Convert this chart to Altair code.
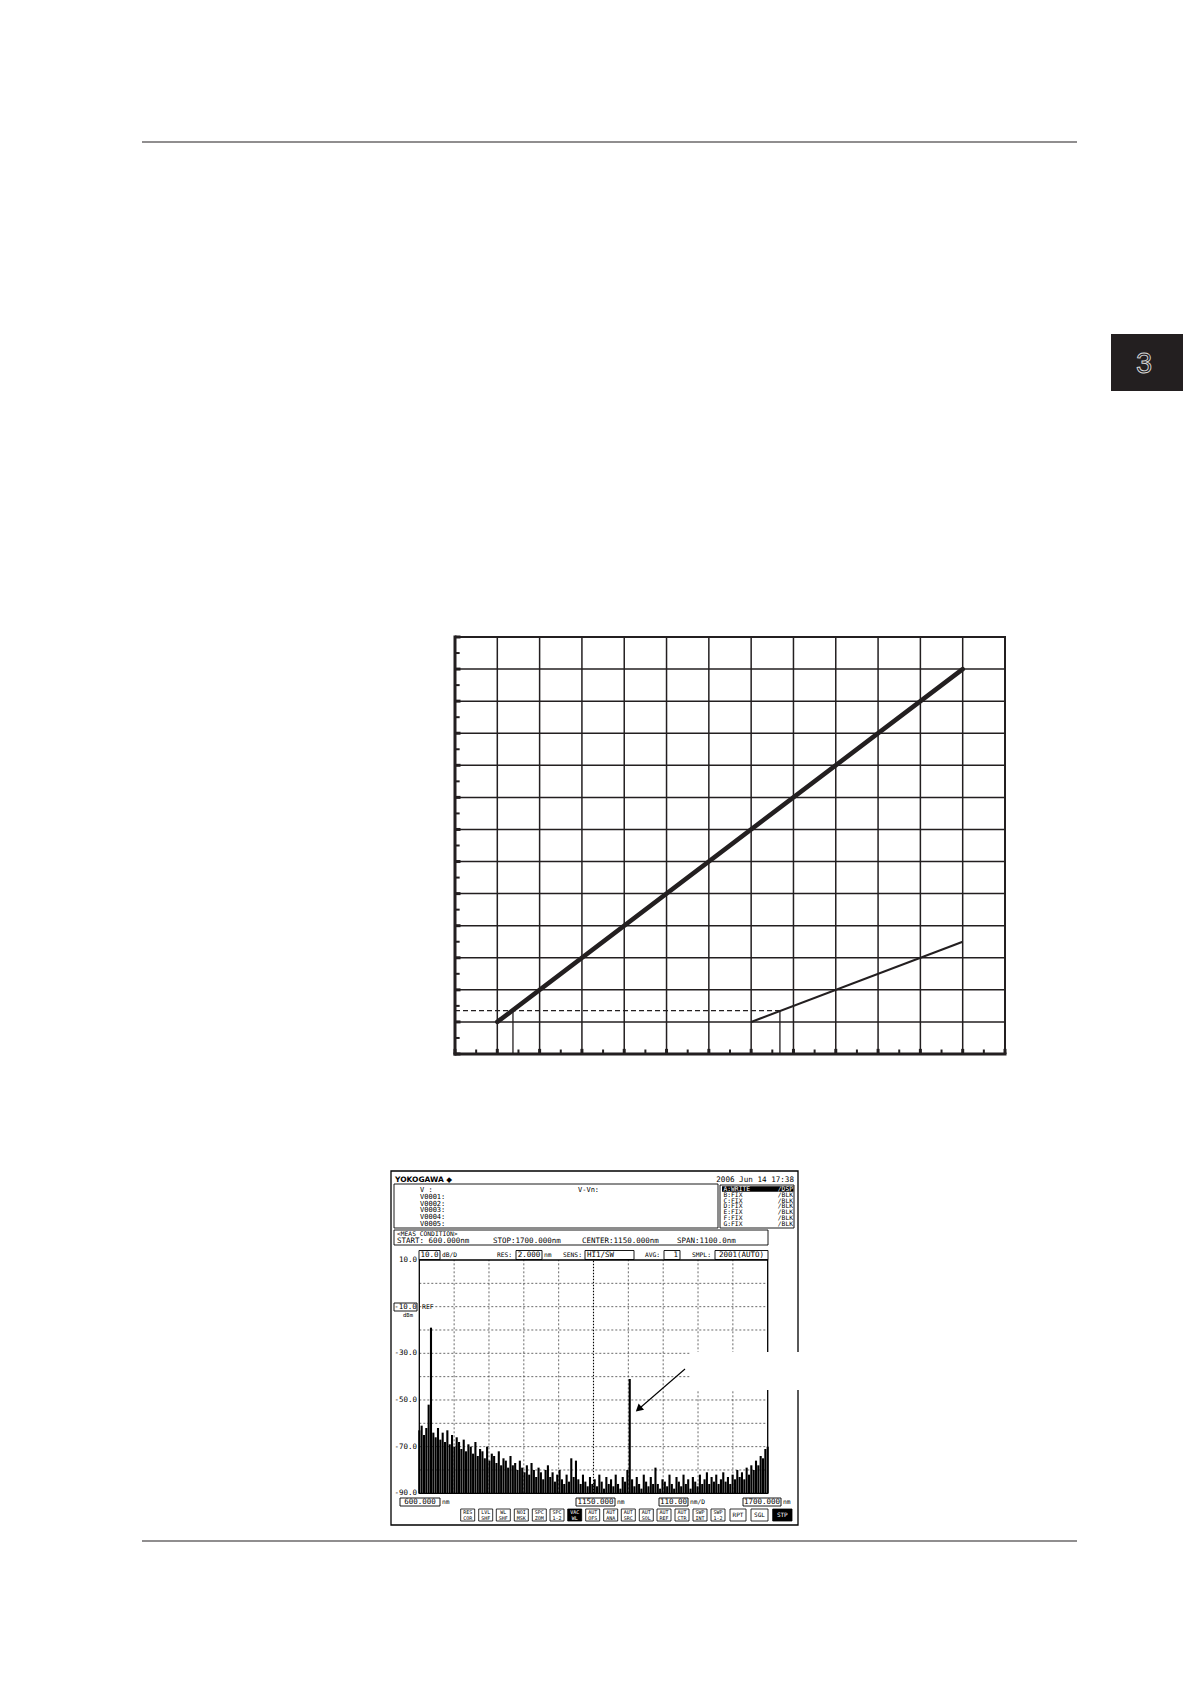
import altair as alt
import numpy as np
import pandas as pd

# ---------------- top diagram (grid units 0..13) ----------------
grid_major = [1, 2, 3, 4, 5, 6, 7, 8, 9, 10, 11, 12]
grid_half = [0.5, 1.5, 2.5, 3.5, 4.5, 5.5, 6.5, 7.5, 8.5, 9.5, 10.5, 11.5, 12.5]
tick_major = [0, 1, 2, 3, 4, 5, 6, 7, 8, 9, 10, 11, 12, 13]
thick_x = [1, 12]
thick_y = [1, 12]
thin_x = [7, 12]
thin_y = [1, 3.5]
dash_y = 1.35
dash_x_end = 7.68
drop_x = [1.37, 7.68]

# ---------------- spectrum (nm / dBm) ----------------
wl_start, wl_stop = 600, 1700
trace_db = [
    -63, -61, -65, -62, -52, -19, -64, -66, -62, -67,
    -64, -68, -63, -69, -65, -70, -66, -68, -71, -67,
    -72, -69, -70, -73, -68, -74, -71, -72, -75, -70,
    -76, -73, -74, -77, -72, -78, -75, -76, -79, -74,
    -78, -77, -80, -76, -79, -81, -78, -82, -77, -80,
    -83, -79, -81, -84, -80, -78, -83, -81, -85, -82,
    -80, -84, -86, -82, -85, -75, -83, -76, -84, -86,
    -82, -85, -87, -83, -86, -84, -87, -82, -85, -88,
    -83, -86, -84, -87, -82, -86, -88, -83, -85, -80,
    -41, -84, -87, -83, -86, -88, -82, -85, -87, -83,
    -86, -79, -86, -88, -84, -85, -87, -82, -86, -88,
    -83, -85, -87, -82, -86, -84, -88, -83, -85, -87,
    -82, -86, -84, -81, -86, -83, -85, -82, -86, -84,
    -81, -85, -83, -86, -82, -84, -80, -83, -81, -84,
    -79, -82, -78, -80, -76, -78, -74, -75, -71, -70,
]
db_ticks = [10, -30, -50, -70, -90]
db_labels = ["10.0", "-30.0", "-50.0", "-70.0", "-90.0"]
db_grid = [0, -10, -20, -30, -40, -50, -60, -70, -80]
wl_grid = [710, 820, 930, 1040, 1260, 1370, 1480, 1590]
wl_center = 1150

# ---------------- scales ----------------
def sc(domain, rng):
    return alt.Scale(domain=domain, range=rng, nice=False, zero=False)

PX = sc([0, 1191], [-8, 1183])      # page layout
PY = sc([0, 1684], [-8, 1676])
TX = sc([0, 13], [447, 997])        # top diagram
TY = sc([0, 13], [1046, 629])
SX = sc([600, 1700], [411.3, 759.7])  # spectrum plot
SY = sc([-90, 10], [1485.3, 1252])

def X(f, s):
    return alt.X(f + ":Q", scale=s, axis=None)

def Y(f, s):
    return alt.Y(f + ":Q", scale=s, axis=None)

layers = []

def hrule(df, xs, ys, **mk):
    layers.append(alt.Chart(pd.DataFrame(df)).mark_rule(**mk).encode(
        x=X("x", xs), x2=alt.X2("x2:Q"), y=Y("y", ys)))

def vrule(df, xs, ys, **mk):
    layers.append(alt.Chart(pd.DataFrame(df)).mark_rule(**mk).encode(
        x=X("x", xs), y=Y("y", ys), y2=alt.Y2("y2:Q")))

def rect(df, xs, ys, **mk):
    layers.append(alt.Chart(pd.DataFrame(df)).mark_rect(**mk).encode(
        x=X("x", xs), x2=alt.X2("x2:Q"), y=Y("y", ys), y2=alt.Y2("y2:Q")))

def text(df, xs, ys, **mk):
    layers.append(alt.Chart(pd.DataFrame(df)).mark_text(**mk).encode(
        x=X("x", xs), y=Y("y", ys), text="t:N"))

INK = "#231f20"

# ---------------- page decorations ----------------
hrule({"x": [142, 142], "x2": [1077, 1077], "y": [142, 1541]}, PX, PY,
      color=INK, strokeWidth=1.1)
rect({"x": [1111], "x2": [1191], "y": [334], "y2": [391]}, PX, PY, color=INK)
text({"x": [1144], "y": [363.5], "t": ["3"]}, PX, PY, align="center", baseline="middle",
     font="Liberation Sans", fontSize=29, fill=INK, stroke="#d8d8d8", strokeWidth=0.9)

# ---------------- top diagram ----------------
vrule({"x": grid_major, "y": [0] * 12, "y2": [13] * 12}, TX, TY, color=INK, strokeWidth=1.5)
hrule({"x": [0] * 12, "x2": [13] * 12, "y": grid_major}, TX, TY, color=INK, strokeWidth=1.5)
# minor ticks
hrule({"x": [0] * 13, "x2": [0.11] * 13, "y": grid_half}, TX, TY, color=INK, strokeWidth=2)
vrule({"x": grid_half, "y": [0] * 13, "y2": [0.14] * 13}, TX, TY, color=INK, strokeWidth=2)
# major stubs
hrule({"x": [0] * 14, "x2": [0.13] * 14, "y": tick_major}, TX, TY, color=INK, strokeWidth=3)
vrule({"x": tick_major, "y": [0] * 14, "y2": [0.16] * 14}, TX, TY, color=INK, strokeWidth=3)
# frame
vrule({"x": [0], "y": [0], "y2": [13]}, TX, TY, color=INK, strokeWidth=3, strokeCap="square")
hrule({"x": [0], "x2": [13], "y": [0]}, TX, TY, color=INK, strokeWidth=3, strokeCap="square")
vrule({"x": [13], "y": [0], "y2": [13]}, TX, TY, color=INK, strokeWidth=2, strokeCap="square")
hrule({"x": [0], "x2": [13], "y": [13]}, TX, TY, color=INK, strokeWidth=2, strokeCap="square")
# dashed level and drop lines
hrule({"x": [0], "x2": [dash_x_end], "y": [dash_y]}, TX, TY, color=INK, strokeWidth=1.2,
      strokeDash=[5, 3])
vrule({"x": drop_x, "y": [0, 0], "y2": [dash_y, dash_y]}, TX, TY, color=INK, strokeWidth=1.3)
# the two lines
layers.append(alt.Chart(pd.DataFrame({"x": thick_x, "y": thick_y})).mark_line(
    color=INK, strokeWidth=4.6, strokeCap="round").encode(x=X("x", TX), y=Y("y", TY)))
layers.append(alt.Chart(pd.DataFrame({"x": thin_x, "y": thin_y})).mark_line(
    color=INK, strokeWidth=2.1).encode(x=X("x", TX), y=Y("y", TY)))

# ---------------- instrument screen ----------------
MONO = "DejaVu Sans Mono"
# outer frame and boxes
rect({"x": [391], "x2": [798], "y": [1171], "y2": [1525]}, PX, PY,
     fill="white", stroke="black", strokeWidth=1.3)
rect({"x": [394, 720, 394], "x2": [718, 794, 768], "y": [1184, 1185, 1230],
      "y2": [1228, 1228, 1245]}, PX, PY, fill="none", stroke="black", strokeWidth=0.9)
# value boxes
rect({"x": [419, 516, 585, 664, 715, 394, 400, 576, 659, 743],
      "x2": [440, 542, 634, 680, 768, 417, 440, 615, 688, 781],
      "y": [1250.5] * 5 + [1303] + [1498] * 4,
      "y2": [1259.5] * 5 + [1311] + [1506] * 4}, PX, PY,
     fill="none", stroke="black", strokeWidth=0.9)
# soft keys
key_top = ["RES", "LVL", "WL", "NOI", "SPC", "SPC", "VAC", "AUT", "AUT", "AUT", "AUT",
           "AUT", "AUT", "SWP", "SWP"]
key_bot = ["COR", "SHF", "SHF", "MSK", "ZOM", "1-2", "WL", "OFS", "ANA", "SRC", "SOL",
           "REF", "CTR", "INT", "1-2"]
key_left = [460.7, 478.7, 496.3, 514.3, 532.3, 550, 567.7, 585.7, 603.7, 621.3, 639.3,
            657, 675, 693, 711]
key3 = ["RPT", "SGL", "STP"]
key3_left = [730, 751, 772.7]
key3_right = [746, 768, 792]
rect({"x": key_left + key3_left, "x2": [k + 14 for k in key_left] + key3_right,
      "y": [1509] * 18, "y2": [1521] * 18}, PX, PY, fill="none", stroke="black",
     strokeWidth=0.8)
rect({"x": [567.7, 772.7], "x2": [581.7, 792], "y": [1509, 1509], "y2": [1521, 1521]},
     PX, PY, color="black")
# highlighted trace row
rect({"x": [722], "x2": [793.5], "y": [1186.3], "y2": [1191.8]}, PX, PY, color="black")

# plot grid
hrule({"x": [600] * 9, "x2": [1700] * 9, "y": db_grid}, SX, SY, color="#444",
      strokeWidth=0.8, strokeDash=[2, 2])
vrule({"x": wl_grid, "y": [-90] * 8, "y2": [10] * 8}, SX, SY, color="#444",
      strokeWidth=0.8, strokeDash=[2, 2])
vrule({"x": [wl_center], "y": [-90], "y2": [10]}, SX, SY, color="black",
      strokeWidth=1.1, strokeDash=[1.5, 1.5])

# trace
trace_df = pd.DataFrame({"x": np.linspace(wl_start, wl_stop, len(trace_db)),
                         "y": [-90] * len(trace_db), "y2": trace_db})
layers.append(alt.Chart(trace_df).mark_rule(color="black", strokeWidth=2.1).encode(
    x=X("x", SX), y=Y("y", SY), y2=alt.Y2("y2:Q")))

# plot border
rect({"x": [600], "x2": [1700], "y": [-90], "y2": [10]}, SX, SY, fill="none",
     stroke="black", strokeWidth=1.3)

# y tick labels
layers.append(alt.Chart(pd.DataFrame({"x": [417] * 5, "y": db_ticks, "t": db_labels}))
              .mark_text(align="right", baseline="middle", font=MONO, fontSize=7.5)
              .encode(x=X("x", PX), y=Y("y", SY), text="t:N"))
layers.append(alt.Chart(pd.DataFrame({"x": [405.5], "y": [-10], "t": ["-10.0"]}))
              .mark_text(align="center", baseline="middle", font=MONO, fontSize=7.5)
              .encode(x=X("x", PX), y=Y("y", SY), text="t:N"))
layers.append(alt.Chart(pd.DataFrame({"x": [422], "y": [-10], "t": ["REF"]}))
              .mark_text(align="left", baseline="middle", font=MONO, fontSize=6.5)
              .encode(x=X("x", PX), y=Y("y", SY), text="t:N"))

# screen texts (page coords): text, x, y, align, size, colour, weight
screen_texts = [
    ("YOKOGAWA ◆", 395, 1180, "left", 7.5, "black", "bold"),
    ("2006 Jun 14 17:38", 794, 1180, "right", 7.6, "black", "normal"),
    ("V    :", 420, 1190, "left", 7, "black", "normal"),
    ("V0001:", 420, 1197, "left", 7, "black", "normal"),
    ("V0002:", 420, 1203.7, "left", 7, "black", "normal"),
    ("V0003:", 420, 1210.3, "left", 7, "black", "normal"),
    ("V0004:", 420, 1217, "left", 7, "black", "normal"),
    ("V0005:", 420, 1223.7, "left", 7, "black", "normal"),
    ("V-Vn:", 578, 1189.5, "left", 7, "black", "normal"),
    ("A:WRITE", 723.5, 1189, "left", 6.3, "white", "normal"),
    ("/DSP", 793, 1189, "right", 6.3, "white", "normal"),
    ("B:FIX", 723.5, 1194.8, "left", 6.3, "black", "normal"),
    ("/BLK", 793, 1194.8, "right", 6.3, "black", "normal"),
    ("C:FIX", 723.5, 1200.6, "left", 6.3, "black", "normal"),
    ("/BLK", 793, 1200.6, "right", 6.3, "black", "normal"),
    ("D:FIX", 723.5, 1206.4, "left", 6.3, "black", "normal"),
    ("/BLK", 793, 1206.4, "right", 6.3, "black", "normal"),
    ("E:FIX", 723.5, 1212.2, "left", 6.3, "black", "normal"),
    ("/BLK", 793, 1212.2, "right", 6.3, "black", "normal"),
    ("F:FIX", 723.5, 1218, "left", 6.3, "black", "normal"),
    ("/BLK", 793, 1218, "right", 6.3, "black", "normal"),
    ("G:FIX", 723.5, 1223.8, "left", 6.3, "black", "normal"),
    ("/BLK", 793, 1223.8, "right", 6.3, "black", "normal"),
    ("<MEAS CONDITION>", 397, 1234, "left", 6.3, "black", "normal"),
    ("START: 600.000nm", 397, 1241, "left", 7.5, "black", "normal"),
    ("STOP:1700.000nm", 493, 1241, "left", 7.5, "black", "normal"),
    ("CENTER:1150.000nm", 582, 1241, "left", 7.5, "black", "normal"),
    ("SPAN:1100.0nm", 677, 1241, "left", 7.5, "black", "normal"),
    ("10.0", 429.5, 1255, "center", 7.5, "black", "normal"),
    ("dB/D", 442, 1255, "left", 6.3, "black", "normal"),
    ("RES:", 497, 1255, "left", 6.3, "black", "normal"),
    ("2.000", 529, 1255, "center", 7.5, "black", "normal"),
    ("nm", 544, 1255, "left", 6.3, "black", "normal"),
    ("SENS:", 563, 1255, "left", 6.3, "black", "normal"),
    ("HI1/SW", 587, 1255, "left", 7.5, "black", "normal"),
    ("AVG:", 645, 1255, "left", 6.3, "black", "normal"),
    ("1", 678, 1255, "right", 7.5, "black", "normal"),
    ("SMPL:", 692, 1255, "left", 6.3, "black", "normal"),
    ("2001(AUTO)", 741.5, 1255, "center", 7.5, "black", "normal"),
    ("dBm", 408, 1314.5, "center", 5.5, "black", "normal"),
    ("600.000", 420, 1502, "center", 7.5, "black", "normal"),
    ("nm", 442, 1502, "left", 6.3, "black", "normal"),
    ("1150.000", 595.5, 1502, "center", 7.5, "black", "normal"),
    ("nm", 617, 1502, "left", 6.3, "black", "normal"),
    ("110.00", 673.5, 1502, "center", 7.5, "black", "normal"),
    ("nm/D", 690, 1502, "left", 6.3, "black", "normal"),
    ("1700.000", 762, 1502, "center", 7.5, "black", "normal"),
    ("nm", 783, 1502, "left", 6.3, "black", "normal"),
    ("RPT", 738, 1515, "center", 6, "black", "normal"),
    ("SGL", 759.5, 1515, "center", 6, "black", "normal"),
    ("STP", 782.3, 1515, "center", 6, "white", "normal"),
]
for i, (a, b) in enumerate(zip(key_top, key_bot)):
    col = "white" if a == "VAC" else "black"
    screen_texts.append((a, key_left[i] + 7, 1512.3, "center", 5, col, "normal"))
    screen_texts.append((b, key_left[i] + 7, 1517.8, "center", 5, col, "normal"))

groups = {}
for t, x, y, al, fs, col, wt in screen_texts:
    groups.setdefault((al, fs, col, wt), []).append((t, x, y))
for (al, fs, col, wt), rows in groups.items():
    font = "DejaVu Sans" if wt == "bold" else MONO
    text({"t": [r[0] for r in rows], "x": [r[1] for r in rows], "y": [r[2] for r in rows]},
         PX, PY, align=al, baseline="middle", font=font, fontSize=fs, color=col,
         fontWeight=wt)

# blanked callout area and arrow
rect({"x": [690], "x2": [801], "y": [1352], "y2": [1390]}, PX, PY, color="white")
layers.append(alt.Chart(pd.DataFrame({"x": [685, 637], "y": [1369, 1410.5]})).mark_line(
    color="black", strokeWidth=1.1).encode(x=X("x", PX), y=Y("y", PY)))
layers.append(alt.Chart(pd.DataFrame({"x": [639.5], "y": [1408.3]})).mark_point(
    shape="triangle", angle=229, size=70, filled=True, color="black", opacity=1).encode(
    x=X("x", PX), y=Y("y", PY)))

chart = alt.layer(*layers).resolve_scale(x="independent", y="independent").properties(
    width=1175, height=1560, autosize=alt.AutoSizeParams(type="none"), padding=0
).configure_view(stroke=None)

chart.save("out.html", embed_options={"renderer": "svg", "actions": False})
